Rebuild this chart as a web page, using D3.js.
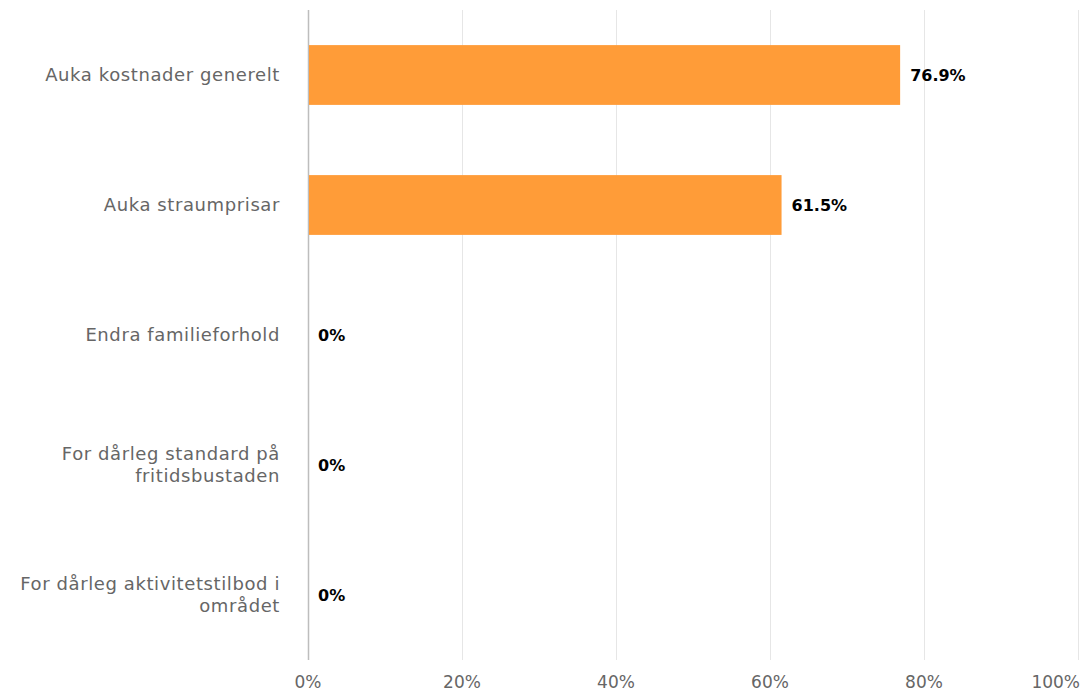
<!DOCTYPE html>
<html><head><meta charset="utf-8">
<script src="https://cdn.jsdelivr.net/npm/d3@7"></script>
<style>body{margin:0;background:#fff}</style>
</head><body>
<svg id="c" width="1081" height="693"></svg>
<script>
const categories = ["Auka kostnader generelt","Auka straumprisar","Endra familieforhold","For dårleg standard på fritidsbustaden","For dårleg aktivitetstilbod i området"];
const values = [76.9, 61.5, 0, 0, 0];
const ticks = [0,20,40,60,80,100];

const svg = d3.select("#c");
const m = {l:308, r:1078, t:10, b:660};
const x = d3.scaleLinear().domain([0,100]).range([m.l, m.r]);
const y = d3.scaleBand().domain(categories).range([m.t, m.b]).paddingInner(0.54).paddingOuter(0.27);

// gridlines
svg.append("g").selectAll("line").data(ticks).join("line")
  .attr("x1", d=>x(d)+0.5).attr("x2", d=>x(d)+0.5)
  .attr("y1", m.t).attr("y2", m.b)
  .attr("stroke", d=> d===0 ? "#bdbdbd" : "#e6e6e6").attr("stroke-width", d=> d===0?1.5:1);

// x tick labels
svg.append("g").selectAll("text").data(ticks).join("text")
  .attr("x", (d,i)=> i===ticks.length-1 ? 1080 : x(d)).attr("y", 688)
  .attr("text-anchor", (d,i)=> i===ticks.length-1 ? "end" : "middle")
  .attr("font-family","'DejaVu Sans',sans-serif")
  .attr("font-size",17).attr("fill","#666")
  .text(d=>d+"%");

// bars
svg.append("g").selectAll("rect").data(values).join("rect")
  .attr("x", x(0)+1).attr("y", (d,i)=>y(categories[i]))
  .attr("width", d=>Math.max(0, x(d)-x(0)-1)).attr("height", y.bandwidth())
  .attr("fill","#ff9c38");

// data labels
svg.append("g").selectAll("text").data(values).join("text")
  .attr("x", d=>x(d)+10).attr("y", (d,i)=>y(categories[i])+y.bandwidth()/2)
  .attr("dy","0.36em")
  .attr("font-family","'DejaVu Sans',sans-serif").attr("font-weight","bold")
  .attr("font-size",16).attr("fill","#000")
  .text(d=> d===0 ? "0%" : d.toFixed(1)+"%");

// category labels with wrapping
const lab = svg.append("g");
categories.forEach((c,i)=>{
  const cy = y(c)+y.bandwidth()/2;
  const t = lab.append("text").attr("text-anchor","end")
    .attr("font-family","'DejaVu Sans',sans-serif").attr("font-size",18)
    .attr("letter-spacing","0.6px").attr("fill","#666");
  const words = c.split(" ");
  let lines=[], cur=[];
  const probe = t.append("tspan");
  words.forEach(w=>{
    const test = cur.concat([w]).join(" ");
    probe.text(test);
    if (probe.node().getComputedTextLength() > 272 && cur.length){ lines.push(cur.join(" ")); cur=[w]; }
    else cur.push(w);
  });
  lines.push(cur.join(" "));
  probe.remove();
  const lh = 22;
  lines.forEach((ln,j)=>{
    t.append("tspan").attr("x",280).attr("y", cy + (j-(lines.length-1)/2)*lh).attr("dy","0.36em").text(ln);
  });
});
</script>
</body></html>
